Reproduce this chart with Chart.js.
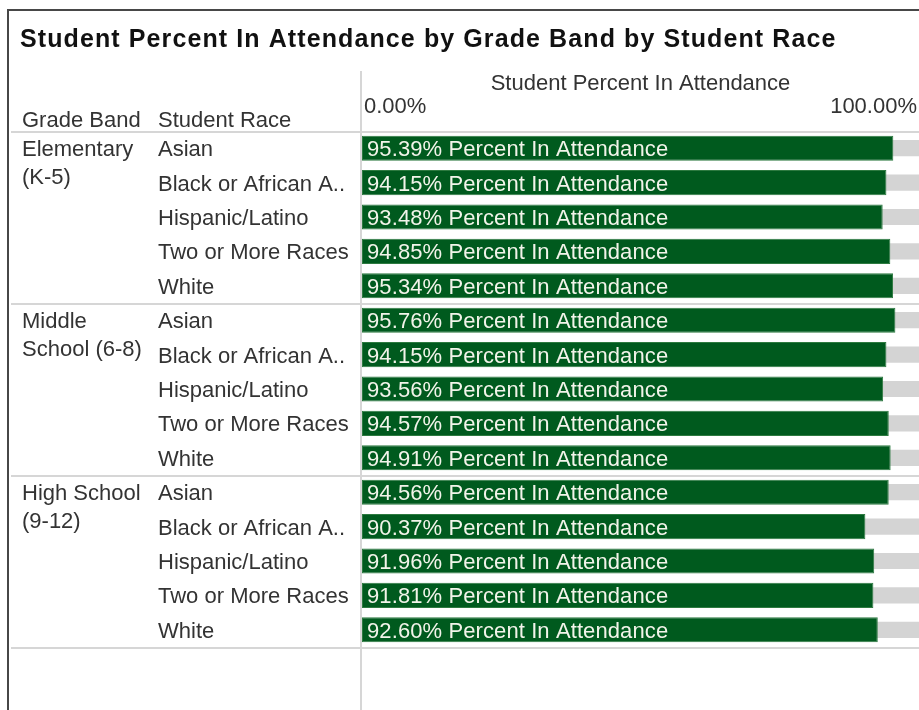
<!DOCTYPE html>
<html>
<head>
<meta charset="utf-8">
<script src="https://cdn.jsdelivr.net/npm/chart.js@4.4.1/dist/chart.umd.min.js"></script>
<style>
  body { margin: 0; background: #fff; }
  #wrap { width: 919px; height: 710px; position: relative; }
</style>
</head>
<body>
<div id="wrap"><canvas id="attendanceChart"></canvas></div>
<script>
// Chart data
const gradeBands = [["Elementary", "(K-5)"], ["Middle", "School (6-8)"], ["High School", "(9-12)"]];
const races = ["Asian", "Black or African A..", "Hispanic/Latino", "Two or More Races", "White"];
const elementaryValues = [95.39, 94.15, 93.48, 94.85, 95.34];
const middleValues = [95.76, 94.15, 93.56, 94.57, 94.91];
const highValues = [94.56, 90.37, 91.96, 91.81, 92.60];
const axisTicks = [0, 100];

const chartTitle = "Student Percent In Attendance by Grade Band by Student Race";
const axisTitle = "Student Percent In Attendance";
const barSuffix = " Percent In Attendance";

const FONT = "'Liberation Sans', Arial, sans-serif";
const TEXT = "#333333";
const GREEN = "#005a1e";

// one row per grade band / race pair
const labels = [];
const values = [];
[elementaryValues, middleValues, highValues].forEach((group, g) => {
    group.forEach((v, i) => {
        labels.push(gradeBands[g].join(" ") + " | " + races[i]);
        values.push(v);
    });
});

// Draws the table text, frame and separator lines
const tablePlugin = {
    id: "tableText",
    beforeDatasetsDraw(chart) {
        const ctx = chart.ctx;
        const x = chart.scales.x;
        const y = chart.scales.y;
        ctx.save();

        // frame
        ctx.strokeStyle = "#474747";
        ctx.lineWidth = 2;
        ctx.beginPath();
        ctx.moveTo(8, 710);
        ctx.lineTo(8, 10);
        ctx.lineTo(919, 10);
        ctx.stroke();

        // row separators
        ctx.strokeStyle = "#d6d6d6";
        ctx.lineWidth = 2;
        [-0.5, 4.5, 9.5, 14.5].forEach((pos) => {
            const py = Math.round(y.getPixelForValue(pos)) + 1;
            ctx.beginPath();
            ctx.moveTo(11, py);
            ctx.lineTo(919, py);
            ctx.stroke();
        });

        // vertical divider
        ctx.beginPath();
        ctx.moveTo(x.left - 1, 71);
        ctx.lineTo(x.left - 1, 710);
        ctx.stroke();

        // title
        ctx.fillStyle = "#111111";
        ctx.font = "bold 25px " + FONT;
        ctx.letterSpacing = "1.1px";
        ctx.textBaseline = "middle";
        ctx.textAlign = "left";
        ctx.fillText(chartTitle, 20, 40);
        ctx.letterSpacing = "0px";

        // header
        ctx.fillStyle = TEXT;
        ctx.font = "22px " + FONT;
        ctx.fillText("Grade Band", 22, 121);
        ctx.fillText("Student Race", 158, 121);
        ctx.textAlign = "center";
        ctx.fillText(axisTitle, (x.left + x.right) / 2, 84);
        axisTicks.forEach((t, i) => {
            ctx.textAlign = i === 0 ? "left" : "right";
            const px = x.getPixelForValue(t) + (i === 0 ? 2 : -2);
            ctx.fillText(t.toFixed(2) + "%", px, 107);
        });

        // row labels
        ctx.textAlign = "left";
        values.forEach((v, i) => {
            const py = y.getPixelForValue(i) + 2;
            ctx.fillText(races[i % races.length], 158, py);
            if (i % races.length === 0) {
                const lines = gradeBands[i / races.length];
                lines.forEach((line, k) => ctx.fillText(line, 22, py + k * 28));
            }
        });
        ctx.restore();
    },
    afterDatasetsDraw(chart) {
        const ctx = chart.ctx;
        const meta = chart.getDatasetMeta(0);
        ctx.save();
        ctx.fillStyle = "#f2f4ea";
        ctx.font = "22px " + FONT;
        ctx.letterSpacing = "0.1px";
        ctx.textBaseline = "middle";
        ctx.textAlign = "left";
        meta.data.forEach((bar, i) => {
            ctx.fillText(values[i].toFixed(2) + "%" + barSuffix, bar.base + 5, bar.y + 2);
        });
        ctx.restore();
    }
};

new Chart(document.getElementById("attendanceChart"), {
    type: "bar",
    data: {
        labels: labels,
        datasets: [
            {
                data: values,
                backgroundColor: GREEN,
                borderColor: "#2d7a40",
                borderWidth: 1,
                borderSkipped: false,
                barPercentage: 0.73,
                categoryPercentage: 1,
                grouped: false
            },
            {
                data: values.map(() => 100),
                backgroundColor: "#d4d4d4",
                borderWidth: 0,
                barPercentage: 0.47,
                categoryPercentage: 1,
                grouped: false
            }
        ]
    },
    options: {
        indexAxis: "y",
        responsive: true,
        maintainAspectRatio: false,
        animation: false,
        layout: { padding: { left: 362, right: 0, top: 131, bottom: 63 } },
        plugins: {
            legend: { display: false },
            tooltip: { enabled: false }
        },
        scales: {
            x: { display: false, min: 0, max: 100 },
            y: { display: false }
        }
    },
    plugins: [tablePlugin]
});
</script>
</body>
</html>
